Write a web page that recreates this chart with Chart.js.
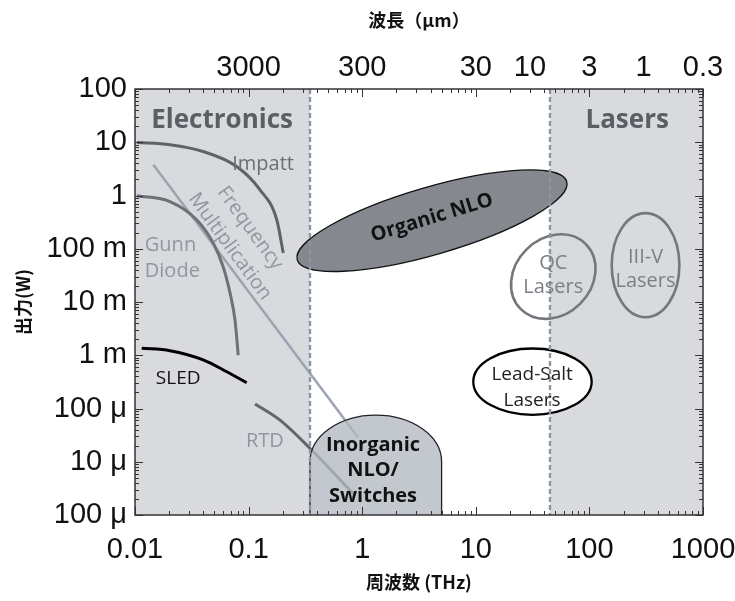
<!DOCTYPE html>
<html lang="ja">
<head>
<meta charset="UTF-8">
<title>THz sources</title>
<style>
  html, body { margin: 0; padding: 0; background: #fff; }
  #wrap { width: 735px; height: 601px; }
</style>
<script src="https://cdn.jsdelivr.net/npm/chart.js"></script>
</head>
<body>
<div id="wrap"><canvas id="chart" width="735" height="601"></canvas></div>
<script>
// axis ticks
const freqTicks = [0.01, 0.1, 1, 10, 100, 1000];
const freqLabels = ['0.01', '0.1', '1', '10', '100', '1000'];
const waveTicks = [0.1, 1, 10, 30, 100, 300, 1000];        // THz position of each wavelength label
const waveLabels = ['3000', '300', '30', '10', '3', '1', '0.3'];
const powerTicks = [1e-6, 1e-5, 1e-4, 1e-3, 1e-2, 0.1, 1, 10, 100];
const powerLabels = ['100 μ', '10 μ', '100 μ', '1 m', '10 m', '100 m', '1', '10', '100'];

// shaded bands (THz)
const electronicsBand = [0.01, 0.347];
const laserBand = [45, 1000];

// curves: frequency (THz) / power (W)
const impattF = [0.0104, 0.0203, 0.0397, 0.0785, 0.126, 0.177, 0.202];
const impattP = [9.9, 8.97, 6.7, 3.5, 1.28, 0.35, 0.083];
const gunnF = [0.0104, 0.0203, 0.0349, 0.0489, 0.0597, 0.0686, 0.0759, 0.081];
const gunnP = [0.99, 0.77, 0.35, 0.127, 0.046, 0.0148, 0.0046, 0.00101];
const multF = [0.0145, 0.918];
const multP = [3.78, 2.9e-5];
const sledF = [0.01145, 0.0203, 0.0398, 0.0642, 0.0962];
const sledP = [1.355e-3, 1.22e-3, 8.2e-4, 4.9e-4, 3.05e-4];
const rtdF = [0.114, 0.188, 0.347, 0.836];
const rtdP = [1.22e-4, 6.1e-5, 1.79e-5, 2.5e-6];

// regions: ellipse = two ends of the long axis [f, P] + width ratio
const organicEnds = [[0.268, 0.0618], [63.1, 1.83]];
const organicRatio = 0.24;
const qcEnds = [[24.9, 0.00735], [92.9, 0.1225]];
const qcRatio = 0.83;
const iiivEnds = [[312, 0.467], [312, 0.00518]];
const iiivRatio = 0.65;
const leadSaltEnds = [[9.5, 3.19e-4], [104.7, 3.19e-4]];
const leadSaltRatio = 0.56;
const inorganicF = [0.347, 5.0];      // left / right edge
const inorganicP = [1e-5, 7.5e-5];    // shoulder / top of arch

const sans = "'Open Sans', 'Noto Sans', sans-serif";
const cjk = "'Noto Sans CJK JP', sans-serif";

const notes = [
  { t: 'Electronics', f: 0.0139, p: 25.4, font: 'bold 26px ' + sans, c: '#5b5e64', align: 'left' },
  { t: 'Lasers', f: 215, p: 25.4, font: 'bold 26px ' + sans, c: '#5b5e64' },
  { t: 'Impatt', f: 0.134, p: 3.93, font: '20px ' + sans, c: '#6b6e75' },
  { t: 'Frequency', f: 0.1028, p: 0.244, font: '20px ' + sans, c: '#8e97a3', rot: 54 },
  { t: 'Multiplication', f: 0.0685, p: 0.11, font: '20px ' + sans, c: '#8e97a3', rot: 54 },
  { t: 'Gunn', f: 0.0122, p: 0.118, font: '20px ' + sans, c: '#8e97a3', align: 'left' },
  { t: 'Diode', f: 0.0122, p: 0.0385, font: '20px ' + sans, c: '#8e97a3', align: 'left' },
  { t: 'SLED', f: 0.024, p: 3.6e-4, font: '19px ' + sans, c: '#111' },
  { t: 'RTD', f: 0.139, p: 2.45e-5, font: '20px ' + sans, c: '#8e97a3' },
  { t: 'Organic NLO', f: 4.11, p: 0.381, font: 'bold 20px ' + sans, c: '#111', rot: -17 },
  { t: 'Inorganic', f: 1.245, p: 2.06e-5, font: 'bold 20px ' + sans, c: '#111' },
  { t: 'NLO/', f: 1.245, p: 6.98e-6, font: 'bold 20px ' + sans, c: '#111' },
  { t: 'Switches', f: 1.245, p: 2.26e-6, font: 'bold 20px ' + sans, c: '#111' },
  { t: 'QC', f: 48.1, p: 0.0543, font: '20px ' + sans, c: '#7b7f87' },
  { t: 'Lasers', f: 48.1, p: 0.0192, font: '20px ' + sans, c: '#7b7f87' },
  { t: 'III-V', f: 312, p: 0.0704, font: '20px ' + sans, c: '#7b7f87' },
  { t: 'Lasers', f: 312, p: 0.0249, font: '20px ' + sans, c: '#7b7f87' },
  { t: 'Lead-Salt', f: 31.3, p: 4.27e-4, font: '19px ' + sans, c: '#222' },
  { t: 'Lasers', f: 31.3, p: 1.38e-4, font: '19px ' + sans, c: '#222' }
];

function curve(f, p, color, width) {
  return {
    data: f.map((x, i) => ({ x: x, y: p[i] })),
    borderColor: color,
    borderWidth: width,
    pointRadius: 0,
    showLine: true,
    fill: false,
    cubicInterpolationMode: 'monotone',
    xAxisID: 'x',
    yAxisID: 'y'
  };
}

function ellipse(ctx, sx, sy, ends, ratio) {
  const x1 = sx.getPixelForValue(ends[0][0]), y1 = sy.getPixelForValue(ends[0][1]);
  const x2 = sx.getPixelForValue(ends[1][0]), y2 = sy.getPixelForValue(ends[1][1]);
  const a = Math.hypot(x2 - x1, y2 - y1) / 2;
  ctx.beginPath();
  ctx.ellipse((x1 + x2) / 2, (y1 + y2) / 2, a, a * ratio, Math.atan2(y2 - y1, x2 - x1), 0, Math.PI * 2);
}

// 1..9 x 10^e positions for the inward tick marks
function logTicks(e0, e1) {
  const out = [];
  for (let e = e0; e < e1; e++) {
    for (let k = 1; k < 10; k++) out.push({ v: k * Math.pow(10, e), major: k === 1 });
  }
  out.push({ v: Math.pow(10, e1), major: true });
  return out;
}

const decor = {
  id: 'decor',
  beforeDatasetsDraw(chart) {
    const { ctx, chartArea: a, scales: { x } } = chart;
    ctx.save();
    ctx.fillStyle = '#d9dadd';
    [electronicsBand, laserBand].forEach(b => {
      const x0 = x.getPixelForValue(b[0]), x1 = x.getPixelForValue(b[1]);
      ctx.fillRect(x0, a.top, x1 - x0, a.bottom - a.top);
    });
    ctx.restore();
  },
  afterDatasetsDraw(chart) {
    const { ctx, chartArea: a, scales: { x, y } } = chart;
    ctx.save();

    // inorganic NLO / switches arch
    const l = x.getPixelForValue(inorganicF[0]), r = x.getPixelForValue(inorganicF[1]);
    const sh = y.getPixelForValue(inorganicP[0]), tp = y.getPixelForValue(inorganicP[1]);
    ctx.beginPath();
    ctx.moveTo(l, a.bottom);
    ctx.lineTo(l, sh);
    ctx.ellipse((l + r) / 2, sh, (r - l) / 2, sh - tp, 0, Math.PI, Math.PI * 2);
    ctx.lineTo(r, a.bottom);
    ctx.fillStyle = 'rgba(178,184,194,0.78)';
    ctx.fill();
    ctx.lineWidth = 1.3;
    ctx.strokeStyle = '#222';
    ctx.stroke();

    // organic NLO
    ellipse(ctx, x, y, organicEnds, organicRatio);
    ctx.fillStyle = '#85888f';
    ctx.fill();
    ctx.lineWidth = 1.3;
    ctx.strokeStyle = '#111';
    ctx.stroke();

    // lead salt
    ellipse(ctx, x, y, leadSaltEnds, leadSaltRatio);
    ctx.fillStyle = '#fff';
    ctx.fill();
    ctx.lineWidth = 2.3;
    ctx.strokeStyle = '#000';
    ctx.stroke();

    // QC and III-V outlines
    ctx.lineWidth = 2.6;
    ctx.strokeStyle = '#74777d';
    ellipse(ctx, x, y, qcEnds, qcRatio);
    ctx.stroke();
    ellipse(ctx, x, y, iiivEnds, iiivRatio);
    ctx.stroke();

    // dashed band edges
    ctx.setLineDash([5, 3]);
    ctx.lineWidth = 2.4;
    ctx.strokeStyle = '#8a95a6';
    [electronicsBand[1], laserBand[0]].forEach(f => {
      const px = Math.round(x.getPixelForValue(f));
      ctx.beginPath();
      ctx.moveTo(px, a.top);
      ctx.lineTo(px, a.bottom);
      ctx.stroke();
    });
    ctx.setLineDash([]);

    // text
    notes.forEach(n => {
      ctx.save();
      ctx.translate(x.getPixelForValue(n.f), y.getPixelForValue(n.p));
      ctx.rotate((n.rot || 0) * Math.PI / 180);
      ctx.font = n.font;
      ctx.fillStyle = n.c;
      ctx.textAlign = n.align || 'center';
      ctx.textBaseline = 'middle';
      ctx.fillText(n.t, 0, 0);
      ctx.restore();
    });

    // inward tick marks
    ctx.strokeStyle = '#333';
    ctx.lineWidth = 1;
    logTicks(-2, 3).forEach(t => {
      const px = Math.round(x.getPixelForValue(t.v)) + 0.5;
      const len = t.major ? 8 : 4;
      ctx.beginPath();
      ctx.moveTo(px, a.bottom); ctx.lineTo(px, a.bottom - len);
      ctx.moveTo(px, a.top); ctx.lineTo(px, a.top + len);
      ctx.stroke();
    });
    logTicks(-6, 2).forEach(t => {
      const py = Math.round(y.getPixelForValue(t.v)) + 0.5;
      const len = t.major ? 8 : 4;
      ctx.beginPath();
      ctx.moveTo(a.left, py); ctx.lineTo(a.left + len, py);
      ctx.moveTo(a.right, py); ctx.lineTo(a.right - len, py);
      ctx.stroke();
    });

    // frame
    ctx.lineWidth = 1.5;
    ctx.strokeStyle = '#333';
    ctx.strokeRect(a.left, a.top, a.right - a.left, a.bottom - a.top);
    ctx.restore();
  }
};

const tickFont = { family: "'Liberation Sans', Arial, sans-serif", size: 29 };
const titleFont = { family: cjk, size: 18, weight: 'bold', lineHeight: 1.2 };
const noGrid = { display: false, drawTicks: false };

function fixH(h) {
  return s => { s.height = h; s.paddingLeft = 0; s.paddingRight = 0; };
}
function fixW(w) {
  return s => { s.width = w; s.paddingTop = 0; s.paddingBottom = 0; };
}

new Chart(document.getElementById('chart'), {
  type: 'scatter',
  data: {
    datasets: [
      curve(impattF, impattP, '#5f6269', 3),
      curve(gunnF, gunnP, '#6d7178', 3),
      curve(multF, multP, '#9ba4b0', 2.5),
      curve(sledF, sledP, '#000', 3),
      curve(rtdF, rtdP, '#63666c', 3)
    ]
  },
  options: {
    responsive: false,
    animation: false,
    events: [],
    layout: { padding: 0 },
    plugins: {
      legend: { display: false },
      tooltip: { enabled: false }
    },
    scales: {
      x: {
        type: 'logarithmic', position: 'bottom', min: 0.01, max: 1000,
        grid: noGrid, border: { display: false },
        afterBuildTicks: s => { s.ticks = freqTicks.map(v => ({ value: v })); },
        ticks: { callback: (v, i) => freqLabels[i], font: tickFont, color: '#111', padding: 18, maxRotation: 0, autoSkip: false },
        title: { display: true, text: '周波数 (THz)', color: '#111', font: titleFont, padding: { top: 0, bottom: 8 } },
        afterFit: fixH(86)
      },
      x2: {
        type: 'logarithmic', position: 'top', min: 0.01, max: 1000,
        grid: noGrid, border: { display: false },
        afterBuildTicks: s => { s.ticks = waveTicks.map(v => ({ value: v })); },
        ticks: { callback: (v, i) => waveLabels[i], font: tickFont, color: '#111', padding: 4, maxRotation: 0, autoSkip: false },
        title: { display: true, text: '波長（μm）', color: '#111', font: titleFont, padding: { top: 9, bottom: 0 } },
        afterFit: fixH(89)
      },
      y: {
        type: 'logarithmic', position: 'left', min: 1e-6, max: 100,
        grid: noGrid, border: { display: false },
        afterBuildTicks: s => { s.ticks = powerTicks.map(v => ({ value: v })); },
        ticks: { callback: (v, i) => powerLabels[i], font: tickFont, color: '#111', padding: 8, autoSkip: false },
        title: { display: true, text: '出力(W)', color: '#111', font: titleFont, padding: { top: 12, bottom: 0 } },
        afterFit: fixW(135)
      },
      y2: {
        type: 'logarithmic', position: 'right', min: 1e-6, max: 100,
        grid: noGrid, border: { display: false },
        ticks: { display: false },
        afterFit: fixW(32)
      }
    }
  },
  plugins: [decor]
});
</script>
</body>
</html>
